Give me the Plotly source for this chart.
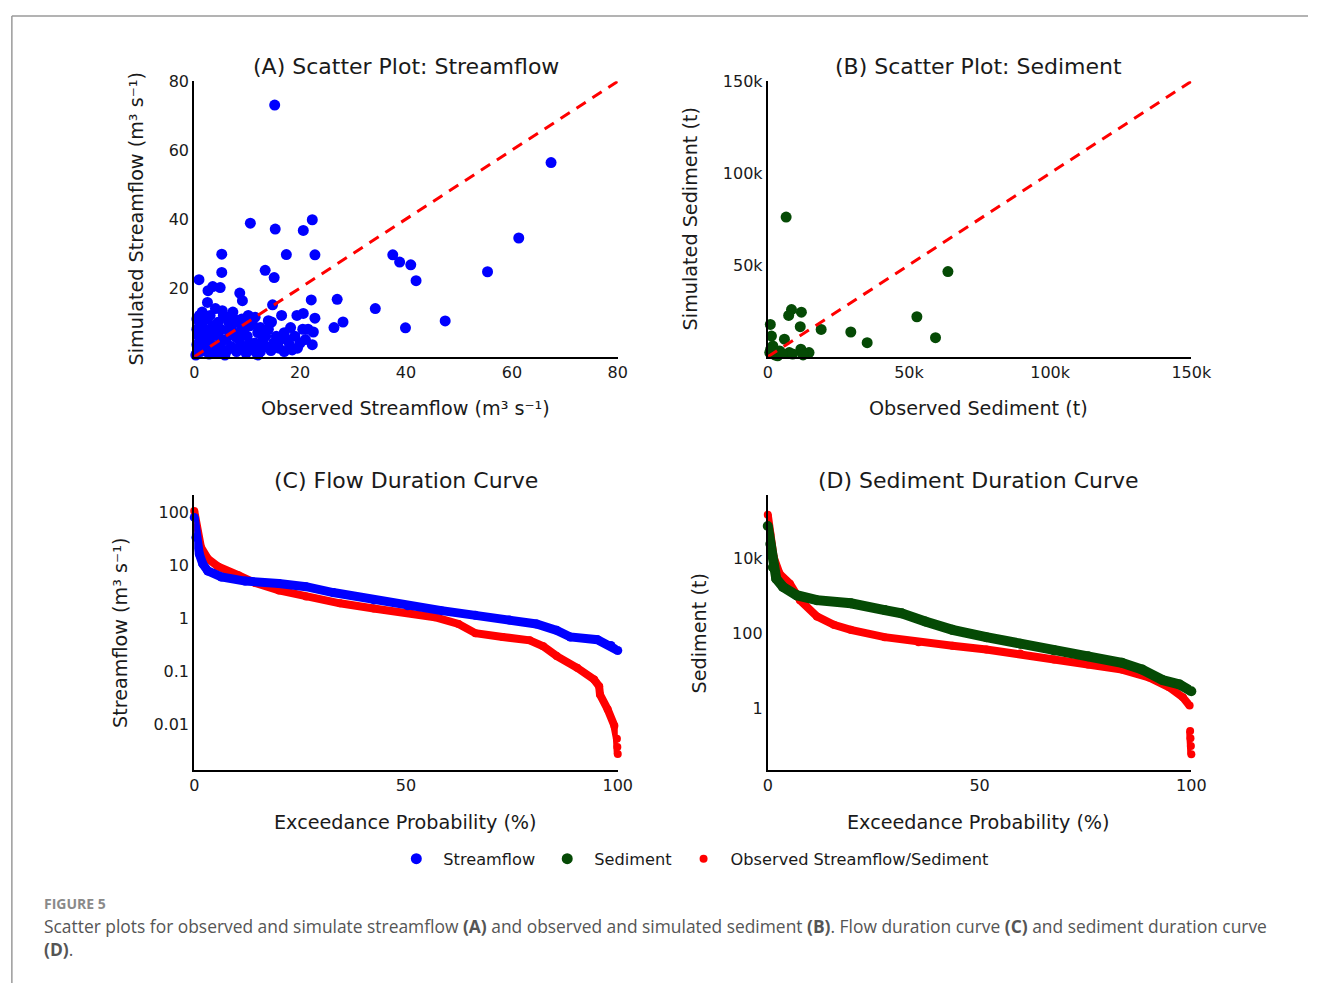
import plotly.graph_objects as go

W, H = 1329, 983

# ---------------- Data ----------------
# (A) Streamflow scatter: observed vs simulated (m3/s)
sf_obs = [10.6, 15.3, 20.6, 22.3, 15.2, 67.4, 5.2, 17.4, 22.8, 37.5, 38.8, 40.9, 41.9, 61.3,
          55.4, 13.4, 15.1, 5.2, 0.9, 2.6, 3.5, 4.9, 2.5, 8.6, 9.1, 14.8, 22.1, 27.0, 34.2,
          39.9, 47.4, 26.4, 28.1, 16.5, 14.6, 19.4, 20.6, 22.8, 22.5, 22.3, 7.3, 5.3, 10.9,
          0.5, 1.0, 1.5, 2.0, 2.5, 3.0, 3.5, 1.0, 0.8, 2.0, 4.0, 4.5, 5.0, 5.5, 6.0, 6.5,
          7.0, 7.5, 8.0, 8.5, 9.0, 9.5, 10.0, 10.5, 11.0, 11.5, 12.0, 12.5, 13.0, 13.5, 14.0,
          15.0, 15.5, 16.0, 17.0, 17.5, 18.0, 19.0, 20.0, 20.5, 21.0, 3.0, 1.5, 4.0, 6.0,
          8.0, 0.3, 1.2, 2.8, 4.2, 5.8, 7.2, 9.8, 12.0, 14.5, 3.2, 5.0, 7.0, 9.0, 11.0,
          2.0, 0.5, 11.8, 18.5, 16.0, 12.5,
          0.5, 1.5, 2.5, 3.5, 4.5, 5.5, 6.5, 7.5, 8.5, 9.5, 10.5, 11.5, 12.5, 13.5, 1.0,
          0.5, 6.0, 4.8, 2.2, 8.8, 10.2, 12.8, 14.0, 16.5, 18.2, 19.5, 21.5, 17.0, 3.8, 7.8]
sf_sim = [38.8, 37.1, 36.7, 39.8, 73.1, 56.4, 29.8, 29.7, 29.6, 29.6, 27.5, 26.7, 22.1, 34.5,
          24.7, 25.1, 23.0, 24.5, 22.4, 19.2, 20.4, 20.1, 15.8, 18.5, 16.3, 15.1, 16.5, 16.7,
          14.0, 8.4, 10.4, 8.5, 10.1, 12.0, 10.1, 12.0, 12.6, 11.2, 7.2, 3.5, 13.0, 13.4,
          11.3, 1.0, 3.0, 5.0, 2.0, 7.0, 4.0, 9.0, 10.0, 6.0, 11.0, 3.0, 6.0, 8.0, 2.0,
          5.0, 10.0, 3.0, 7.0, 1.5, 5.0, 8.0, 3.0, 6.0, 9.0, 2.0, 4.0, 7.0, 1.5, 5.0, 3.0,
          8.0, 4.0, 6.0, 2.5, 7.0, 5.0, 3.5, 6.0, 4.0, 8.0, 5.0, 12.0, 13.0, 14.0, 11.5,
          10.0, 0.5, 1.5, 0.8, 1.2, 0.5, 2.5, 1.0, 0.5, 1.8, 6.2, 4.0, 9.0, 11.0, 9.5,
          8.0, 8.0, 1.2, 2.0, 4.5, 3.0,
          3.5, 9.0, 11.0, 1.5, 10.0, 12.0, 7.5, 11.0, 2.5, 6.5, 4.0, 11.5, 8.5, 6.0, 12.0,
          11.0, 1.5, 7.5, 4.5, 9.5, 12.0, 3.0, 10.5, 5.5, 8.5, 2.5, 8.0, 1.5, 8.3, 5.8]

# (B) Sediment scatter: observed vs simulated (t)
sed_obs = [6500, 63800, 52800, 59400, 29400, 35200, 18900, 11500, 8400, 7400, 11900, 900,
           1300, 5900, 11700, 14600, 1800, 4200, 700, 7600, 8800, 2500, 3500, 5000, 1000, 12500]
sed_sim = [76100, 46400, 21800, 10400, 13500, 7700, 14900, 16400, 25700, 22500, 24300, 17600,
           11300, 9600, 4100, 2300, 5900, 3200, 2300, 2300, 1500, 1000, 500, 1800, 4000, 1000]

# (C) Flow duration curves: exceedance (%) and streamflow (m3/s)
fdc_exc_sim = [0, 0.4, 1.2, 2.0, 3.2, 6.4, 12.0, 20.0, 26.4, 32.8, 42.4, 50.4, 58.4, 66.4,
               74.4, 80.8, 85.6, 88.8, 95.2, 98.4, 100]
fdc_sim = [81, 34, 16.6, 10.8, 7.9, 6.1, 5.1, 4.6, 4.0, 3.1, 2.25, 1.75, 1.41, 1.15,
           0.94, 0.79, 0.60, 0.45, 0.40, 0.31, 0.25]
fdc_exc_obs = [0, 0.6, 1.6, 3.2, 5.6, 10.4, 14.4, 20.0, 26.4, 34.4, 42.4, 50.4, 56.8, 62.4,
               66.4, 72.8, 79.2, 82.4, 85.6, 90.4, 94.4, 95.6, 95.8, 97.6, 99.2, 99.8, 99.9, 100]
fdc_obs = [107, 52, 22, 13.5, 9.6, 6.6, 4.7, 3.4, 2.6, 1.94, 1.55, 1.28, 1.06, 0.79,
           0.53, 0.45, 0.39, 0.30, 0.196, 0.118, 0.071, 0.053, 0.037, 0.0195, 0.0095,
           0.0054, 0.0038, 0.0028]

# (D) Sediment duration curves: exceedance (%) and sediment (t)
sdc_exc_sim = [0, 0.6, 1.2, 2.0, 3.6, 6.8, 11.6, 19.6, 27.6, 31.6, 37.2, 43.6, 51.6, 59.6,
               67.6, 75.6, 83.6, 88.4, 93.2, 97.2, 100]
sdc_sim = [76000, 25000, 6000, 2950, 1780, 1070, 790, 650, 430, 350, 212, 127, 81, 54,
           36, 25, 16.7, 11, 5.8, 4.4, 2.9]
sdc_exc_obs = [0, 0.6, 1.4, 2.8, 5.2, 7.6, 11.6, 15.6, 19.6, 27.6, 35.6, 43.6, 51.6, 59.6,
               67.6, 75.6, 83.6, 90.0, 94.8, 98.0, 99.6, 99.7, 99.72, 99.8, 99.9, 100]
sdc_obs = [150000, 46000, 11000, 4000, 2180, 790, 290, 173, 127, 81, 59, 48, 38, 29.6,
           20.5, 15, 11, 6.8, 3.7, 2.0, 1.2, None, 0.25, 0.16, 0.1, 0.06]

one_to_one_sf = [0, 80]
one_to_one_sed = [0, 150000]

BLUE = "#0000ff"
GREEN = "#054a05"
RED = "#ff0000"
FONT = "DejaVu Sans"
TXT = "#1a1a1a"


def px(x):
    return x / W


def py(y):
    return 1 - y / H


fig = go.Figure()

# ---- (A)
fig.add_trace(go.Scatter(x=sf_obs, y=sf_sim, mode="markers", name="Streamflow",
                         marker=dict(color=BLUE, size=11), xaxis="x", yaxis="y",
                         cliponaxis=False))
fig.add_trace(go.Scatter(x=one_to_one_sf, y=one_to_one_sf, mode="lines", showlegend=False,
                         line=dict(color=RED, width=3, dash="11px,8px"), xaxis="x", yaxis="y"))
# ---- (B)
fig.add_trace(go.Scatter(x=sed_obs, y=sed_sim, mode="markers", name="Sediment",
                         marker=dict(color=GREEN, size=11), xaxis="x2", yaxis="y2",
                         cliponaxis=False))
fig.add_trace(go.Scatter(x=one_to_one_sed, y=one_to_one_sed, mode="lines", showlegend=False,
                         line=dict(color=RED, width=3, dash="11px,8px"), xaxis="x2", yaxis="y2"))

# ---- (C)
fig.add_trace(go.Scatter(x=fdc_exc_obs, y=fdc_obs, mode="lines", showlegend=False,
                         line=dict(color=RED, width=8), xaxis="x3", yaxis="y3", cliponaxis=False))
fig.add_trace(go.Scatter(x=fdc_exc_obs, y=fdc_obs, mode="markers", name="Observed Streamflow/Sediment",
                         marker=dict(color=RED, size=8), xaxis="x3", yaxis="y3",
                         cliponaxis=False))
fig.add_trace(go.Scatter(x=fdc_exc_sim, y=fdc_sim, mode="lines", showlegend=False,
                         line=dict(color=BLUE, width=9), xaxis="x3", yaxis="y3", cliponaxis=False))
fig.add_trace(go.Scatter(x=fdc_exc_sim, y=fdc_sim, mode="markers", showlegend=False,
                         marker=dict(color=BLUE, size=9), xaxis="x3", yaxis="y3", cliponaxis=False))

# ---- (D)
fig.add_trace(go.Scatter(x=sdc_exc_obs, y=sdc_obs, mode="lines", showlegend=False,
                         line=dict(color=RED, width=8), xaxis="x4", yaxis="y4", cliponaxis=False))
fig.add_trace(go.Scatter(x=sdc_exc_obs, y=sdc_obs, mode="markers", showlegend=False,
                         marker=dict(color=RED, size=8), xaxis="x4", yaxis="y4", cliponaxis=False))
fig.add_trace(go.Scatter(x=sdc_exc_sim, y=sdc_sim, mode="lines", showlegend=False,
                         line=dict(color=GREEN, width=10), xaxis="x4", yaxis="y4", cliponaxis=False))
fig.add_trace(go.Scatter(x=sdc_exc_sim, y=sdc_sim, mode="markers", showlegend=False,
                         marker=dict(color=GREEN, size=10), xaxis="x4", yaxis="y4", cliponaxis=False))

axis_common = dict(showgrid=False, zeroline=False, showline=True, linecolor="black",
                   linewidth=2, ticks="", tickfont=dict(family=FONT, size=16, color=TXT))

dom_left = [px(193), px(625)]
dom_right = [px(778), px(1210)]
dom_top = [py(351), py(73)]
dom_bot = [py(768), py(490)]

fig.update_layout(
    width=W, height=H,
    margin=dict(l=0, r=0, t=0, b=0),
    paper_bgcolor="white", plot_bgcolor="white",
    font=dict(family=FONT, color=TXT),
    xaxis=dict(domain=dom_left, range=[0, 80], tickvals=[0, 20, 40, 60, 80], anchor="y", **axis_common),
    yaxis=dict(domain=dom_top, range=[0, 80], tickvals=[20, 40, 60, 80], anchor="x", **axis_common),
    xaxis2=dict(domain=dom_right, range=[0, 150000], tickvals=[0, 50000, 100000, 150000],
                ticktext=["0", "50k", "100k", "150k"], anchor="y2", **axis_common),
    yaxis2=dict(domain=dom_top, range=[0, 150000], tickvals=[50000, 100000, 150000],
                ticktext=["50k", "100k", "150k"], anchor="x2", **axis_common),
    xaxis3=dict(domain=dom_left, range=[0, 100], tickvals=[0, 50, 100], anchor="y3", **axis_common),
    yaxis3=dict(domain=dom_bot, type="log", range=[-2.855, 2.34],
                tickvals=[0.01, 0.1, 1, 10, 100], ticktext=["0.01", "0.1", "1", "10", "100"],
                anchor="x3", **axis_common),
    xaxis4=dict(domain=dom_right, range=[0, 100], tickvals=[0, 50, 100], anchor="y4", **axis_common),
    yaxis4=dict(domain=dom_bot, type="log", range=[-1.64, 5.72],
                tickvals=[1, 100, 10000], ticktext=["1", "100", "10k"],
                anchor="x4", **axis_common),
    legend=dict(orientation="h", x=px(700), y=py(858), xanchor="center", yanchor="middle",
                font=dict(family=FONT, size=16.2, color=TXT), itemsizing="trace",
                itemwidth=44, bgcolor="rgba(0,0,0,0)"),
)

anns = []


def ann(text, x, y, size, angle=0):
    anns.append(dict(text=text, x=px(x), y=py(y), xref="paper", yref="paper",
                     showarrow=False, textangle=angle, xanchor="center", yanchor="middle",
                     font=dict(family=FONT, size=size, color=TXT)))


# subplot titles
ann("(A) Scatter Plot: Streamflow", 409, 58, 22)
ann("(B) Scatter Plot: Sediment", 993, 58, 22)
ann("(C) Flow Duration Curve", 409, 476, 22)
ann("(D) Sediment Duration Curve", 993, 476, 22)
# axis titles
ann("Observed Streamflow (m³ s⁻¹)", 409, 403, 19.2)
ann("Simulated Streamflow (m³ s⁻¹)", 134, 212, 19.2, angle=-90)
ann("Observed Sediment (t)", 993, 403, 19.2)
ann("Simulated Sediment (t)", 699, 212, 19.2, angle=-90)
ann("Exceedance Probability (%)", 409, 821, 19.2)
ann("Streamflow (m³ s⁻¹)", 118, 630, 19.2, angle=-90)
ann("Exceedance Probability (%)", 993, 821, 19.2)
ann("Sediment (t)", 708, 630, 19.2, angle=-90)

# caption
anns.append(dict(text="<b>FIGURE 5</b>", x=px(38), y=py(903), xref="paper", yref="paper",
                 showarrow=False, xanchor="left", yanchor="middle",
                 font=dict(family="Open Sans", size=14, color="#8a8a8a")))
anns.append(dict(text=("Scatter plots for observed and simulate streamflow <b>(A)</b> and observed and "
                       "simulated sediment <b>(B)</b>. Flow duration curve <b>(C)</b> and sediment duration curve"
                       "<br><b>(D)</b>."),
                 x=px(38), y=py(937.5), xref="paper", yref="paper", showarrow=False,
                 xanchor="left", yanchor="middle", align="left",
                 font=dict(family="Open Sans", size=17.4, color="#555555")))

fig.update_layout(annotations=anns)

# frame lines
fig.add_shape(type="line", xref="paper", yref="paper", x0=px(7), x1=1, y0=py(7), y1=py(7),
              line=dict(color="#9a9a9a", width=1.5))
fig.add_shape(type="line", xref="paper", yref="paper", x0=px(7), x1=px(7), y0=py(7), y1=0,
              line=dict(color="#9a9a9a", width=1.5))

fig.write_html("out.html",
               post_script="document.body.style.margin='0';document.body.style.overflow='hidden';")
